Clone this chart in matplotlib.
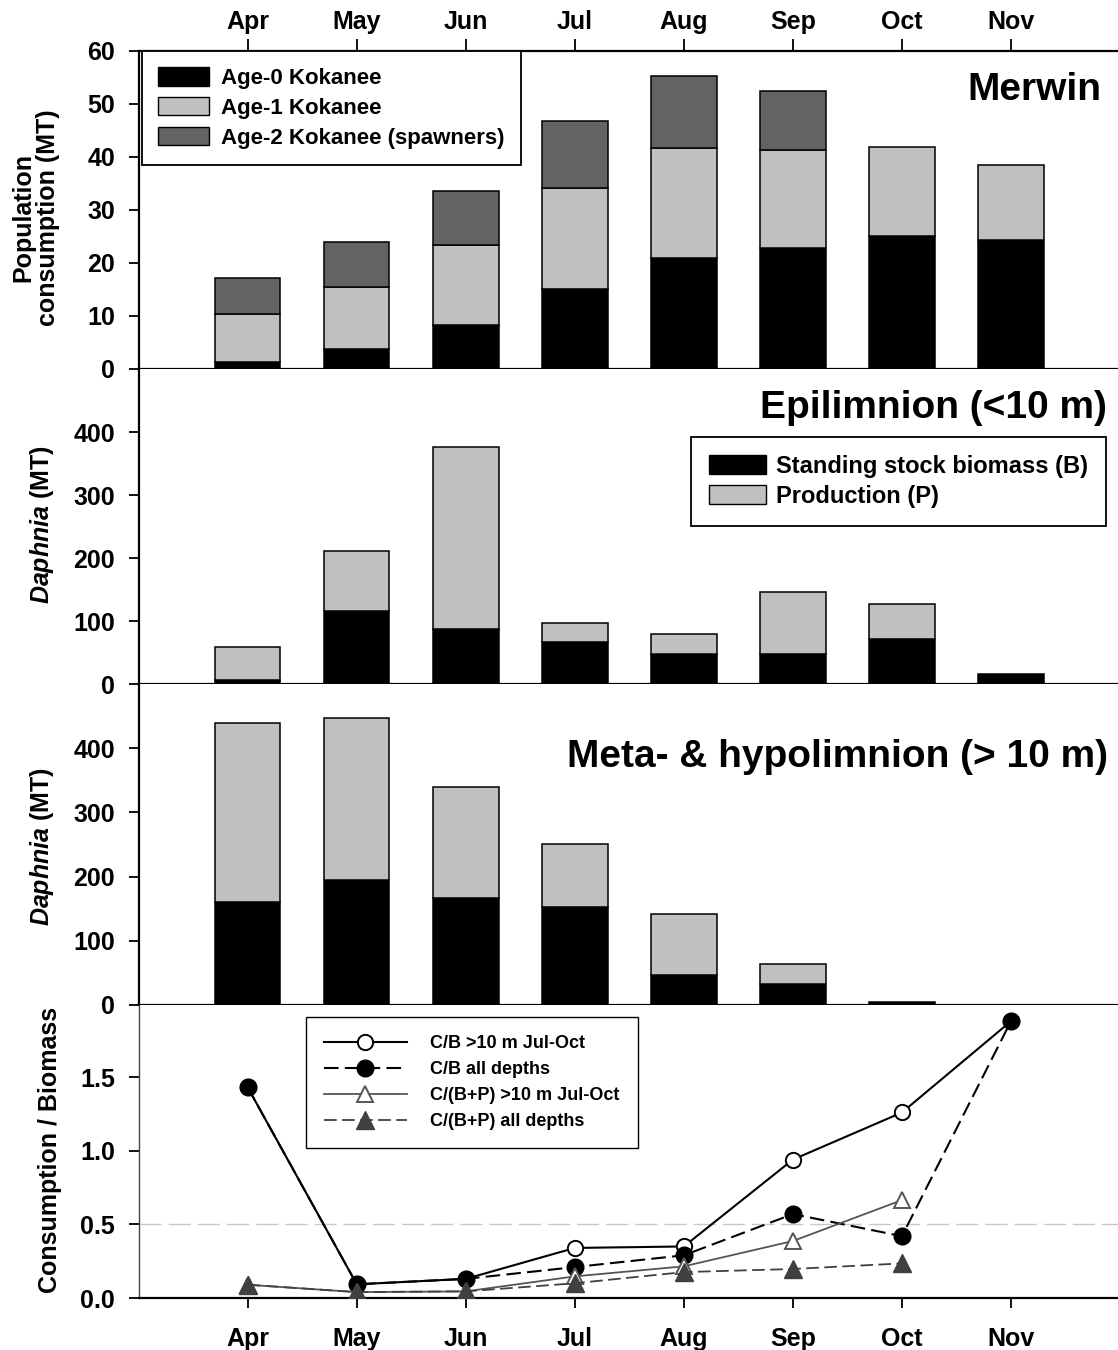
import matplotlib
matplotlib.use('Agg')
import matplotlib.pyplot as plt
import numpy as np
from matplotlib.patches import Patch
from matplotlib.lines import Line2D

plt.rcParams['font.family'] = ['Liberation Sans', 'DejaVu Sans']
plt.rcParams['font.weight'] = 'bold'
plt.rcParams['mathtext.fontset'] = 'custom'
plt.rcParams['mathtext.it'] = 'Liberation Sans:italic:bold'
plt.rcParams['mathtext.rm'] = 'Liberation Sans:bold'

# ---------------- data ----------------
months = ['Apr', 'May', 'Jun', 'Jul', 'Aug', 'Sep', 'Oct', 'Nov']

# Population consumption (MT) by age class (stacked segments)
age0 = [1.4, 3.8, 8.3, 15.0, 21.0, 22.8, 25.0, 24.4]
age1 = [8.9, 11.6, 15.0, 19.2, 20.7, 18.4, 16.9, 14.1]
age2 = [6.9, 8.5, 10.3, 12.6, 13.5, 11.2, 0.0, 0.0]

# Epilimnion Daphnia (MT)
epi_B = [7, 116, 88, 67, 48, 48, 71, 16]
epi_P = [52, 95, 288, 30, 32, 98, 56, 0]

# Meta- & hypolimnion Daphnia (MT)
hyp_B = [161, 195, 167, 153, 46, 32, 5, 0]
hyp_P = [279, 252, 173, 98, 96, 32, 0, 0]

# Consumption / Biomass ratios
cb_hypo = [1.43, 0.093, 0.13, 0.34, 0.35, 0.94, 1.26, 1.88]
cb_all = [1.43, 0.093, 0.13, 0.21, 0.29, 0.57, 0.42, 1.88]
cbp_hypo = [0.09, 0.04, 0.045, 0.147, 0.215, 0.387, 0.665, np.nan]
cbp_all = [0.09, 0.04, 0.045, 0.10, 0.176, 0.197, 0.235, np.nan]

ref_level = 0.5

# ---------------- layout ----------------
W, H = 1118, 1350
fig = plt.figure(figsize=(W / 100, H / 100), dpi=100)

def rect(top_px, bot_px, left_px=138.7, right_px=1120.0):
    return [left_px / W, 1 - bot_px / H, (right_px - left_px) / W, (bot_px - top_px) / H]

ax1 = fig.add_axes(rect(50.7, 369))
ax2 = fig.add_axes(rect(369, 684))
ax3 = fig.add_axes(rect(684, 1005))
ax4 = fig.add_axes(rect(1005, 1298))

x = np.arange(len(months))
bw = 0.6
c_black, c_light, c_dark = '#000000', '#c0c0c0', '#636363'
elw = 1.1

for ax in (ax1, ax2, ax3, ax4):
    ax.set_xlim(-1, 8)
    ax.spines['right'].set_visible(False)
    for s in ('left', 'bottom', 'top'):
        ax.spines[s].set_linewidth(1.6)
    ax.tick_params(axis='y', direction='out', length=7, width=1.3,
                   labelsize=18, pad=10)

# Panel 1
a0 = np.array(age0); a1 = np.array(age1); a2 = np.array(age2)
ax1.bar(x, a0, bw, color=c_black, edgecolor='black', linewidth=elw)
ax1.bar(x, a1, bw, bottom=a0, color=c_light, edgecolor='black', linewidth=elw)
m2 = a2 > 0
ax1.bar(x[m2], a2[m2], bw, bottom=(a0 + a1)[m2], color=c_dark, edgecolor='black', linewidth=elw)
ax1.set_ylim(0, 60)
ax1.set_yticks(range(0, 61, 10))
ax1.xaxis.tick_top()
ax1.set_xticks(x)
ax1.set_xticklabels(months, fontsize=18, fontweight='bold')
ax1.tick_params(axis='x', direction='out', length=9, width=1.3, pad=3)
leg1 = ax1.legend(handles=[Patch(facecolor=c_black, edgecolor='black', label='Age-0 Kokanee'),
                           Patch(facecolor=c_light, edgecolor='black', label='Age-1 Kokanee'),
                           Patch(facecolor=c_dark, edgecolor='black', label='Age-2 Kokanee (spawners)')],
                  loc='upper left', bbox_to_anchor=(0.003, 1.0), borderaxespad=0,
                  fontsize=16, fancybox=False, framealpha=1, edgecolor='black',
                  handlelength=2.3, handleheight=0.9, labelspacing=0.35,
                  handletextpad=0.5, borderpad=0.75)
leg1.get_frame().set_linewidth(1.3)
ax1.text(0.9806, 0.845, 'Merwin', transform=ax1.transAxes, ha='right', va='baseline',
         fontsize=28, fontweight='bold')

# Panel 2
eB = np.array(epi_B); eP = np.array(epi_P)
ax2.bar(x, eB, bw, color=c_black, edgecolor='black', linewidth=elw)
mp = eP > 0
ax2.bar(x[mp], eP[mp], bw, bottom=eB[mp], color=c_light, edgecolor='black', linewidth=elw)
ax2.set_ylim(0, 500)
ax2.set_yticks(range(0, 401, 100))
ax2.spines['top'].set_visible(False)
ax2.tick_params(axis='x', bottom=False, top=False, labelbottom=False)
leg2 = ax2.legend(handles=[Patch(facecolor=c_black, edgecolor='black', label='Standing stock biomass (B)'),
                           Patch(facecolor=c_light, edgecolor='black', label='Production (P)')],
                  loc='upper right', bbox_to_anchor=(0.9857, 0.784), borderaxespad=0,
                  fontsize=17, fancybox=False, framealpha=1, edgecolor='black',
                  handlelength=2.4, handleheight=0.85, labelspacing=0.3,
                  handletextpad=0.45, borderpad=0.75)
leg2.get_frame().set_linewidth(1.3)
ax2.text(0.9868, 0.844, 'Epilimnion (<10 m)', transform=ax2.transAxes, ha='right',
         va='baseline', fontsize=28, fontweight='bold')

# Panel 3
hB = np.array(hyp_B); hP = np.array(hyp_P)
mb = hB > 0
ax3.bar(x[mb], hB[mb], bw, color=c_black, edgecolor='black', linewidth=elw)
mp3 = hP > 0
ax3.bar(x[mp3], hP[mp3], bw, bottom=hB[mp3], color=c_light, edgecolor='black', linewidth=elw)
ax3.set_ylim(0, 500)
ax3.set_yticks(range(0, 401, 100))
ax3.spines['top'].set_visible(False)
ax3.tick_params(axis='x', bottom=False, top=False, labelbottom=False)
ax3.text(0.9878, 0.741, 'Meta- & hypolimnion (> 10 m)', transform=ax3.transAxes,
         ha='right', va='baseline', fontsize=28, fontweight='bold')

# Panel 4
ax4.axhline(ref_level, color='#c8c8c8', linewidth=1.0, dashes=(16, 5), zorder=1)
dash = (7, 3)
ax4.plot(x, cb_hypo, color='black', linewidth=1.5, marker='o', markersize=11,
         markerfacecolor='white', markeredgecolor='black', markeredgewidth=1.4, zorder=3)
ax4.plot(x, cb_all, color='black', linewidth=1.5, dashes=dash, marker='o', markersize=12,
         markerfacecolor='black', markeredgecolor='black', zorder=3)
ax4.plot(x, cbp_hypo, color='#555555', linewidth=1.3, marker='^', markersize=12,
         markerfacecolor='white', markeredgecolor='#555555', markeredgewidth=1.4, zorder=3)
ax4.plot(x, cbp_all, color='#404040', linewidth=1.3, dashes=dash, marker='^', markersize=13,
         markerfacecolor='#404040', markeredgecolor='#404040', zorder=3)
ax4.set_ylim(0, 1.99)
ax4.set_yticks([0.0, 0.5, 1.0, 1.5])
ax4.set_yticklabels(['0.0', '0.5', '1.0', '1.5'])
ax4.spines['top'].set_visible(False)
ax4.set_xticks(x)
ax4.set_xticklabels(months, fontsize=18, fontweight='bold')
ax4.tick_params(axis='x', direction='out', length=7, width=1.3, pad=14)
h4 = [Line2D([], [], color='black', lw=1.5, marker='o', ms=11, mfc='white', mec='black', mew=1.4),
      Line2D([], [], color='black', lw=1.5, dashes=dash, marker='o', ms=12, mfc='black', mec='black'),
      Line2D([], [], color='#555555', lw=1.3, marker='^', ms=12, mfc='white', mec='#555555', mew=1.4),
      Line2D([], [], color='#404040', lw=1.3, dashes=dash, marker='^', ms=13, mfc='#404040', mec='#404040')]
leg4 = ax4.legend(h4, ['C/B >10 m Jul-Oct', 'C/B all depths', 'C/(B+P) >10 m Jul-Oct',
                       'C/(B+P) all depths'],
                  loc='upper left', bbox_to_anchor=(0.170, 0.959), borderaxespad=0,
                  prop={'size': 13, 'weight': 'bold'}, fancybox=False, framealpha=1,
                  edgecolor='black', handlelength=4.6, labelspacing=0.5,
                  handletextpad=1.3, borderpad=1.0)
leg4.get_frame().set_linewidth(1.0)
ax4.spines['left'].set_linewidth(1.0)
ax4.spines['left'].set_color('#444444')

for ax in (ax1, ax2, ax3, ax4):
    for lab in ax.get_yticklabels() + ax.get_xticklabels():
        lab.set_fontweight('bold')

# y labels (figure pixel centres)
def fpx(px, py):
    return px / W, 1 - py / H

fig.text(*fpx(36, 218), 'Population\nconsumption (MT)', rotation=90, ha='center',
         va='center', fontsize=18, fontweight='bold', multialignment='center',
         linespacing=1.05)
fig.text(*fpx(42, 524), r'$\it{Daphnia}$ (MT)', rotation=90, ha='center', va='center',
         fontsize=18, fontweight='bold')
fig.text(*fpx(42, 846), r'$\it{Daphnia}$ (MT)', rotation=90, ha='center', va='center',
         fontsize=18, fontweight='bold')
fig.text(*fpx(50, 1150), 'Consumption / Biomass', rotation=90, ha='center', va='center',
         fontsize=18, fontweight='bold')

fig.savefig('out.png', dpi=100)
